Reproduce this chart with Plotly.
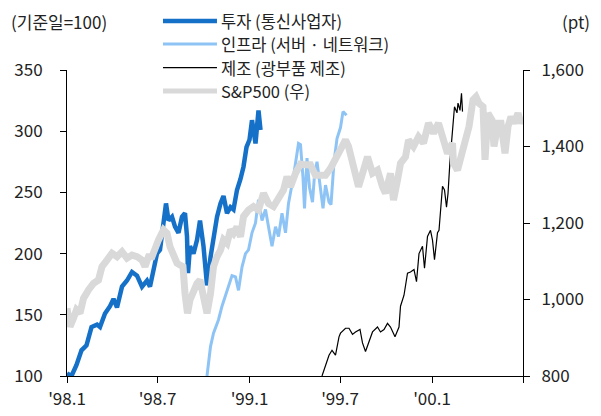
import plotly.graph_objects as go

# ---- data ----
invest_dates = ["1998-01-01","1998-01-10","1998-01-20","1998-01-30","1998-02-09","1998-02-19","1998-03-02","1998-03-08",
    "1998-03-18","1998-03-28","1998-04-04","1998-04-11","1998-04-21","1998-05-01","1998-05-11","1998-05-21","1998-05-31",
    "1998-06-10","1998-06-16","1998-06-23","1998-06-30","1998-07-06","1998-07-13","1998-07-18","1998-07-23","1998-07-30",
    "1998-08-05","1998-08-12","1998-08-19","1998-08-25","1998-08-29","1998-08-31","1998-09-04","1998-09-11","1998-09-18",
    "1998-09-24","1998-10-01","1998-10-08","1998-10-15","1998-10-21","1998-10-28","1998-11-04","1998-11-10","1998-11-17",
    "1998-11-24","1998-11-30","1998-12-07","1998-12-14","1998-12-20","1998-12-26","1999-01-01","1999-01-06","1999-01-13",
    "1999-01-19","1999-01-23"]
invest_vals = [102,100,109,121,125,140,142,140,151,157,163,156,173,178,185,182,173,178,173,189,200,203,225,241,227,230,
    222,217,230,233,214,184,206,200,211,227,206,174,197,214,230,241,247,233,238,236,252,261,271,287,293,309,290,317,301]

infra_dates = ["1998-10-08","1998-10-15","1998-10-21","1998-10-31","1998-11-07","1998-11-17","1998-11-27","1998-12-04",
    "1998-12-10","1998-12-17","1998-12-24","1998-12-30","1999-01-06","1999-01-13","1999-01-19","1999-01-26","1999-02-02",
    "1999-02-08","1999-02-15","1999-02-22","1999-02-28","1999-03-07","1999-03-14","1999-03-20","1999-03-30","1999-04-09",
    "1999-04-13","1999-04-18","1999-04-21","1999-04-26","1999-05-01","1999-05-07","1999-05-11","1999-05-16","1999-05-23",
    "1999-05-28","1999-06-02","1999-06-09","1999-06-13","1999-06-19","1999-06-25","1999-07-02","1999-07-07","1999-07-14"]
infra_vals = [100,124,135,146,157,170,182,181,170,189,200,203,217,225,244,227,236,222,206,222,214,233,217,241,263,290,
    289,262,237,278,254,242,264,275,254,237,256,242,240,275,294,303,316,313]

mfg_dates = ["1999-05-26","1999-06-02","1999-06-09","1999-06-15","1999-06-22","1999-06-29","1999-07-02","1999-07-12",
    "1999-07-19","1999-07-26","1999-08-01","1999-08-10","1999-08-15","1999-08-21","1999-08-28","1999-09-04","1999-09-14",
    "1999-09-20","1999-09-27","1999-10-04","1999-10-10","1999-10-19","1999-10-27","1999-10-30","1999-11-06","1999-11-13",
    "1999-11-19","1999-11-26","1999-12-01","1999-12-06","1999-12-13","1999-12-17","1999-12-23","1999-12-29","2000-01-02",
    "2000-01-06","2000-01-12","2000-01-15","2000-01-22","2000-01-26","2000-01-30","2000-02-02","2000-02-06","2000-02-11",
    "2000-02-15","2000-02-20","2000-02-22","2000-02-26","2000-02-29","2000-03-02"]
mfg_vals = [100,108,117,121,117,132,135,139,139,134,136,138,127,120,128,136,140,136,138,143,140,132,140,157,166,184,
    185,187,177,200,206,188,214,219,211,195,217,219,255,252,238,249,276,301,320,315,323,317,331,316]

sp_dates = ["1998-01-01","1998-01-07","1998-01-14","1998-01-20","1998-01-27","1998-02-03","1998-02-13","1998-02-23",
    "1998-03-05","1998-03-12","1998-03-22","1998-04-01","1998-04-11","1998-04-21","1998-05-01","1998-05-11","1998-05-21",
    "1998-05-31","1998-06-06","1998-06-13","1998-06-20","1998-06-26","1998-07-03","1998-07-13","1998-07-20","1998-07-26",
    "1998-08-02","1998-08-09","1998-08-15","1998-08-21","1998-08-25","1998-08-30","1998-09-04","1998-09-11","1998-09-18",
    "1998-09-24","1998-10-01","1998-10-08","1998-10-15","1998-10-21","1998-10-28","1998-11-04","1998-11-10","1998-11-17",
    "1998-11-24","1998-11-30","1998-12-07","1998-12-14","1998-12-20","1998-12-30","1999-01-09","1999-01-19","1999-01-29",
    "1999-02-08","1999-02-18","1999-02-28","1999-03-10","1999-03-17","1999-03-24","1999-04-03","1999-04-13","1999-04-23",
    "1999-05-03","1999-05-13","1999-05-23","1999-06-02","1999-06-12","1999-06-25","1999-07-05","1999-07-12","1999-07-18",
    "1999-07-28","1999-08-07","1999-08-17","1999-08-25","1999-09-04","1999-09-14","1999-09-24","1999-09-30","1999-10-10",
    "1999-10-16","1999-10-24","1999-10-30","1999-11-09","1999-11-15","1999-11-25","1999-12-05","1999-12-15","1999-12-25",
    "2000-01-04","2000-01-14","2000-01-24","2000-02-01","2000-02-11","2000-02-13","2000-02-21","2000-02-28","2000-03-09",
    "2000-03-15","2000-03-23","2000-03-29","2000-04-04","2000-04-12","2000-04-16","2000-04-22","2000-04-30","2000-05-04",
    "2000-05-12","2000-05-18","2000-05-26","2000-06-01","2000-06-07","2000-06-13","2000-06-21","2000-06-27","2000-06-30"]
sp_vals = [977,929,951,973,964,1003,1025,1042,1051,1086,1103,1121,1112,1125,1108,1116,1112,1103,1086,1112,1112,1138,
    1156,1182,1173,1138,1112,1095,1090,1086,1016,964,999,1025,1042,1051,1016,964,1016,1086,1112,1129,1156,1147,1182,
    1173,1190,1164,1217,1234,1243,1234,1278,1251,1243,1269,1286,1321,1295,1330,1354,1352,1352,1325,1325,1325,1343,1378,
    1396,1417,1400,1347,1295,1338,1373,1330,1338,1295,1278,1330,1260,1312,1356,1373,1417,1400,1425,1409,1461,1435,1461,
    1417,1382,1409,1356,1338,1373,1409,1452,1522,1530,1513,1504,1365,1487,1469,1400,1461,1461,1382,1452,1478,1461,1487,
    1461,1469]

series_names = ["투자 (통신사업자)", "인프라 (서버 · 네트워크)", "제조 (광부품 제조)", "S&P500 (우)"]
series_colors = ["#1570C8", "#8EC4F5", "#000000", "#D9D9D9"]
series_widths = [4.5, 3, 1.2, 7]

x_tickvals = ["1998-01-01", "1998-07-01", "1999-01-01", "1999-07-01", "2000-01-01", "2000-07-01"]
x_ticktext = ["'98.1", "'98.7", "'99.1", "'99.7", "'00.1", ""]

FONT = "Noto Sans CJK KR, Noto Sans, sans-serif"
TXT = "#222222"

fig = go.Figure()
data = [(invest_dates, invest_vals, "y"), (infra_dates, infra_vals, "y"),
        (mfg_dates, mfg_vals, "y"), (sp_dates, sp_vals, "y2")]
for (xs, ys, ax), name, col, w in zip(data, series_names, series_colors, series_widths):
    fig.add_trace(go.Scatter(x=xs, y=ys, name=name, mode="lines", yaxis=ax,
                             line=dict(color=col, width=w), showlegend=False))

# custom legend (long line samples as in the reference)
leg_y = [1.160, 1.085, 1.008, 0.931]
for name, col, w, yy in zip(series_names, series_colors, series_widths, leg_y):
    fig.add_shape(type="line", xref="paper", yref="paper", x0=0.2105, x1=0.3289, y0=yy, y1=yy,
                  line=dict(color=col, width=min(w, 5)))
    fig.add_annotation(text=name, xref="paper", yref="paper", x=0.3355, y=yy, xanchor="left",
                       yanchor="middle", showarrow=False, borderpad=0,
                       font=dict(family=FONT, size=16.5, color=TXT))

fig.add_annotation(text="(기준일=100)", xref="paper", yref="paper", x=-0.125, y=1.157, xanchor="left",
                   yanchor="middle", showarrow=False, borderpad=0, font=dict(family=FONT, size=17, color=TXT))
fig.add_annotation(text="(pt)", xref="paper", yref="paper", x=1.15, y=1.157, xanchor="right",
                   yanchor="middle", showarrow=False, borderpad=0, font=dict(family=FONT, size=17, color=TXT))

axis_common = dict(showgrid=False, zeroline=False, showline=True, linecolor="#000000", linewidth=1,
                   ticks="outside", ticklen=6, tickcolor="#000000", tickwidth=1, automargin=False,
                   tickfont=dict(family=FONT, size=17, color=TXT))

fig.update_layout(
    width=601, height=416,
    margin=dict(l=67, r=78, t=70, b=40, autoexpand=False),
    paper_bgcolor="white", plot_bgcolor="white",
    xaxis=dict(axis_common, type="date", range=["1998-01-01", "2000-07-01"],
               tickmode="array", tickvals=x_tickvals, ticktext=x_ticktext, ticklabelstandoff=2),
    yaxis=dict(axis_common, range=[100, 350], tickmode="linear", tick0=100, dtick=50,
               ticklabelstandoff=14),
    yaxis2=dict(axis_common, overlaying="y", side="right", range=[800, 1600], tickmode="linear",
                tick0=800, dtick=200, tickformat=",", ticklabelstandoff=8),
    showlegend=False,
)

fig.write_html("out.html")
